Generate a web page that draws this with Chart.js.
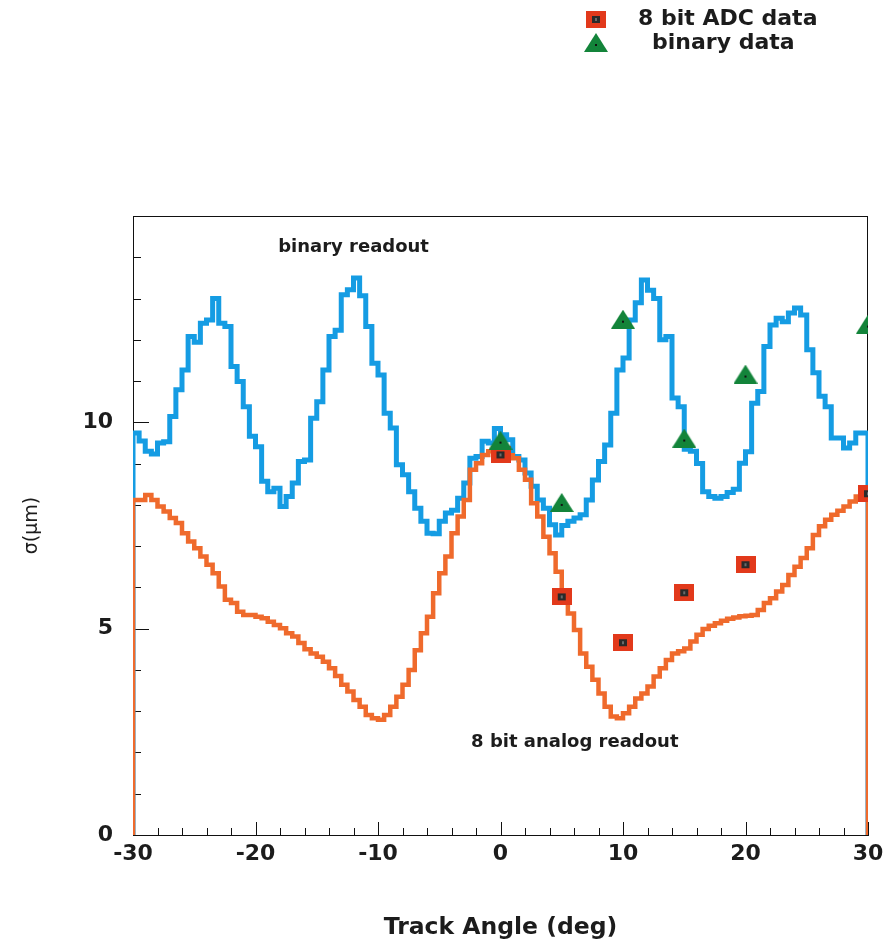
<!DOCTYPE html>
<html lang="en">
<head>
    <meta charset="UTF-8">
    <title>Track angle resolution</title>
    <script src="https://cdn.jsdelivr.net/npm/chart.js@4.4.1/dist/chart.umd.min.js"></script>
    <style>
        body { margin: 0; background: #fff; }
        canvas { display: block; }
    </style>
</head>
<body>
    <canvas id="grafico" width="884" height="942"></canvas>
    <script>
        // histogram: 120 bins of 0.5 deg from -30 to 30
        const binLow = -30;
        const binWidth = 0.5;

        // blue curve, sigma (um) per bin
        const binaryReadout = [
            9.74, 9.55, 9.3, 9.23, 9.5, 9.53, 10.14, 10.79, 11.27, 12.08,
            11.94, 12.4, 12.48, 13.0, 12.4, 12.32, 11.35, 10.99, 10.38, 9.66,
            9.41, 8.57, 8.32, 8.4, 7.96, 8.2, 8.53, 9.05, 9.09, 10.1,
            10.5, 11.27, 12.08, 12.23, 13.09, 13.21, 13.5, 13.07, 12.32, 11.43,
            11.15, 10.22, 9.86, 8.97, 8.73, 8.32, 7.92, 7.6, 7.31, 7.3,
            7.6, 7.8, 7.87, 8.16, 8.53, 9.13, 9.17, 9.54, 9.5, 9.85,
            9.7, 9.58, 9.17, 9.09, 8.77, 8.45, 8.12, 7.92, 7.52, 7.27,
            7.5, 7.6, 7.68, 7.76, 8.12, 8.6, 9.05, 9.45, 10.22, 11.27,
            11.56, 12.48, 12.9, 13.45, 13.2, 13.0, 12.0, 12.08, 10.59, 10.38,
            9.35, 9.3, 9.0, 8.32, 8.2, 8.16, 8.2, 8.3, 8.38, 9.01,
            9.29, 10.46, 10.75, 11.84, 12.36, 12.52, 12.44, 12.65, 12.77, 12.6,
            11.76, 11.2, 10.63, 10.38, 9.62, 9.62, 9.38, 9.5, 9.74, 9.74
        ];

        // orange curve, sigma (um) per bin
        const analogReadout = [
            8.12, 8.12, 8.24, 8.12, 7.96, 7.84, 7.68, 7.56, 7.31, 7.11,
            6.95, 6.75, 6.55, 6.34, 6.02, 5.7, 5.62, 5.41, 5.33, 5.33,
            5.29, 5.25, 5.17, 5.09, 5.01, 4.89, 4.81, 4.65, 4.5, 4.4,
            4.32, 4.2, 4.04, 3.85, 3.64, 3.48, 3.27, 3.11, 2.91, 2.83,
            2.79, 2.91, 3.11, 3.35, 3.64, 4.0, 4.48, 4.89, 5.29, 5.86,
            6.34, 6.75, 7.31, 7.72, 8.12, 8.85, 9.01, 9.21, 9.3, 9.33,
            9.25, 9.2, 9.13, 8.85, 8.61, 8.04, 7.72, 7.23, 6.83, 6.38,
            5.78, 5.37, 4.97, 4.4, 4.08, 3.76, 3.43, 3.11, 2.87, 2.83,
            2.95, 3.11, 3.31, 3.43, 3.6, 3.84, 4.04, 4.24, 4.4, 4.45,
            4.52, 4.69, 4.85, 4.99, 5.07, 5.13, 5.19, 5.24, 5.27, 5.3,
            5.31, 5.33, 5.45, 5.62, 5.74, 5.9, 6.06, 6.3, 6.5, 6.71,
            6.95, 7.27, 7.48, 7.64, 7.76, 7.86, 7.96, 8.08, 8.2, 8.28
        ];

        // measured points
        const adcAngles = [0, 5, 10, 15, 20, 30];
        const adcSigma = [9.21, 5.77, 4.66, 5.87, 6.55, 8.27];
        const binaryAngles = [0, 5, 10, 15, 20, 30];
        const binarySigma = [9.57, 8.06, 12.5, 9.62, 11.17, 12.38];

        const xTicksMajor = [-30, -20, -10, 0, 10, 20, 30];
        const yTicksMajor = [0, 5, 10];

        const FONT = 'DejaVu Sans';
        const TEXT = '#1c1c1c';

        // histogram outline: drops to 0 at both ends like the original
        function histo(values) {
            const pts = [{ x: binLow, y: 0 }];
            values.forEach((v, i) => pts.push({ x: binLow + i * binWidth, y: v }));
            const hi = binLow + values.length * binWidth;
            pts.push({ x: hi, y: values[values.length - 1] });
            pts.push({ x: hi, y: 0 });
            return pts;
        }

        // marker images
        const squareImg = document.createElement('canvas');
        squareImg.width = 20; squareImg.height = 17;
        (function () {
            const c = squareImg.getContext('2d');
            c.fillStyle = '#e2391b';
            c.fillRect(0, 0, 20, 17);
            c.fillStyle = '#2a2a2a';
            c.fillRect(6, 5, 8, 7);
            c.fillStyle = '#6a6a6a';
            c.fillRect(9, 7, 2, 3);
        })();

        const triImg = document.createElement('canvas');
        triImg.width = 24; triImg.height = 19;
        (function () {
            const c = triImg.getContext('2d');
            c.fillStyle = '#13843a';
            c.beginPath();
            c.moveTo(12, 0);
            c.lineTo(24, 19);
            c.lineTo(0, 19);
            c.closePath();
            c.fill();
            c.fillStyle = '#111';
            c.fillRect(11, 11, 2, 2);
        })();

        const frameAndTicks = {
            id: 'frameAndTicks',
            beforeDatasetsDraw(chart) {
                const { ctx, chartArea: a, scales: { x, y } } = chart;
                ctx.save();
                ctx.strokeStyle = '#111';
                ctx.lineWidth = 1;
                ctx.strokeRect(a.left + 0.5, a.top + 0.5, a.right - a.left - 1, a.bottom - a.top);
                ctx.beginPath();
                y.ticks.forEach(t => {
                    const py = Math.round(y.getPixelForValue(t.value)) + 0.5;
                    const len = t.value % 5 === 0 ? 16 : 8;
                    ctx.moveTo(a.left, py);
                    ctx.lineTo(a.left + len, py);
                });
                x.ticks.forEach(t => {
                    const px = Math.round(x.getPixelForValue(t.value)) + 0.5;
                    const len = t.value % 10 === 0 ? 13 : 7;
                    ctx.moveTo(px, a.bottom);
                    ctx.lineTo(px, a.bottom - len);
                });
                ctx.stroke();
                ctx.restore();
            },
            afterDatasetsDraw(chart) {
                const { ctx, scales: { x, y } } = chart;
                ctx.save();
                ctx.fillStyle = TEXT;
                ctx.font = 'bold 18px "' + FONT + '"';
                ctx.textAlign = 'left';
                ctx.textBaseline = 'middle';
                ctx.fillText('binary readout', x.getPixelForValue(-18.15), y.getPixelForValue(14.25));
                ctx.fillText('8 bit analog readout', x.getPixelForValue(-2.4), y.getPixelForValue(2.25));
                ctx.restore();
            },
            afterDraw(chart) {
                const ctx = chart.ctx;
                ctx.save();
                ctx.drawImage(squareImg, 586, 11);
                ctx.drawImage(triImg, 584, 33);
                ctx.fillStyle = TEXT;
                ctx.font = 'bold 22px "' + FONT + '"';
                ctx.textAlign = 'left';
                ctx.textBaseline = 'middle';
                ctx.fillText('8 bit ADC data', 638, 19);
                ctx.fillText('binary data', 652, 43);
                ctx.restore();
            }
        };

        const ctx = document.getElementById('grafico').getContext('2d');
        const grafico = new Chart(ctx, {
            type: 'line',
            data: {
                datasets: [{
                    label: '8 bit ADC data',
                    data: adcAngles.map((a, i) => ({ x: a, y: adcSigma[i] })),
                    showLine: false,
                    pointStyle: squareImg,
                    pointRadius: 10,
                    clip: 0,
                    order: 1
                }, {
                    label: 'binary data',
                    data: binaryAngles.map((a, i) => ({ x: a, y: binarySigma[i] })),
                    showLine: false,
                    pointStyle: triImg,
                    pointRadius: 10,
                    clip: 0,
                    order: 0
                }, {
                    label: '8 bit analog readout',
                    data: histo(analogReadout),
                    stepped: true,
                    borderColor: '#ef6a2c',
                    borderWidth: 4.5,
                    borderJoinStyle: 'miter',
                    pointRadius: 0,
                    fill: false,
                    order: 2
                }, {
                    label: 'binary readout',
                    data: histo(binaryReadout),
                    stepped: true,
                    borderColor: '#159ce3',
                    borderWidth: 5,
                    borderJoinStyle: 'miter',
                    pointRadius: 0,
                    fill: false,
                    order: 3
                }]
            },
            options: {
                responsive: false,
                animation: false,
                layout: { padding: { top: 216, right: 16, left: 0, bottom: 0 } },
                plugins: { legend: { display: false }, tooltip: { enabled: false } },
                scales: {
                    x: {
                        type: 'linear',
                        min: -30,
                        max: 30,
                        grid: { display: false, drawTicks: false },
                        border: { display: true, color: '#111', width: 1 },
                        ticks: {
                            stepSize: 2,
                            autoSkip: false,
                            maxRotation: 0,
                            padding: 6,
                            color: TEXT,
                            font: { family: FONT, size: 22, weight: 'bold' },
                            callback: v => xTicksMajor.includes(v) ? String(v) : ''
                        },
                        title: {
                            display: true,
                            text: 'Track Angle (deg)',
                            color: TEXT,
                            font: { family: FONT, size: 23.5, weight: 'bold' },
                            padding: { top: 0, bottom: 0 }
                        },
                        afterFit: s => { s.height = 107; s.paddingLeft = 0; s.paddingRight = 0; }
                    },
                    y: {
                        min: 0,
                        max: 15,
                        grid: { display: false, drawTicks: false },
                        border: { display: true, color: '#111', width: 1 },
                        ticks: {
                            stepSize: 1,
                            padding: 20,
                            color: TEXT,
                            font: { family: FONT, size: 22, weight: 'bold' },
                            callback: v => yTicksMajor.includes(v) ? String(v) : ''
                        },
                        title: {
                            display: true,
                            text: 'σ(μm)',
                            color: TEXT,
                            font: { family: FONT, size: 19, weight: 'normal' },
                            padding: { top: 21, bottom: 0 }
                        },
                        afterFit: s => { s.width = 133; s.paddingTop = 0; s.paddingBottom = 0; }
                    }
                }
            },
            plugins: [frameAndTicks]
        });
    </script>
</body>
</html>
